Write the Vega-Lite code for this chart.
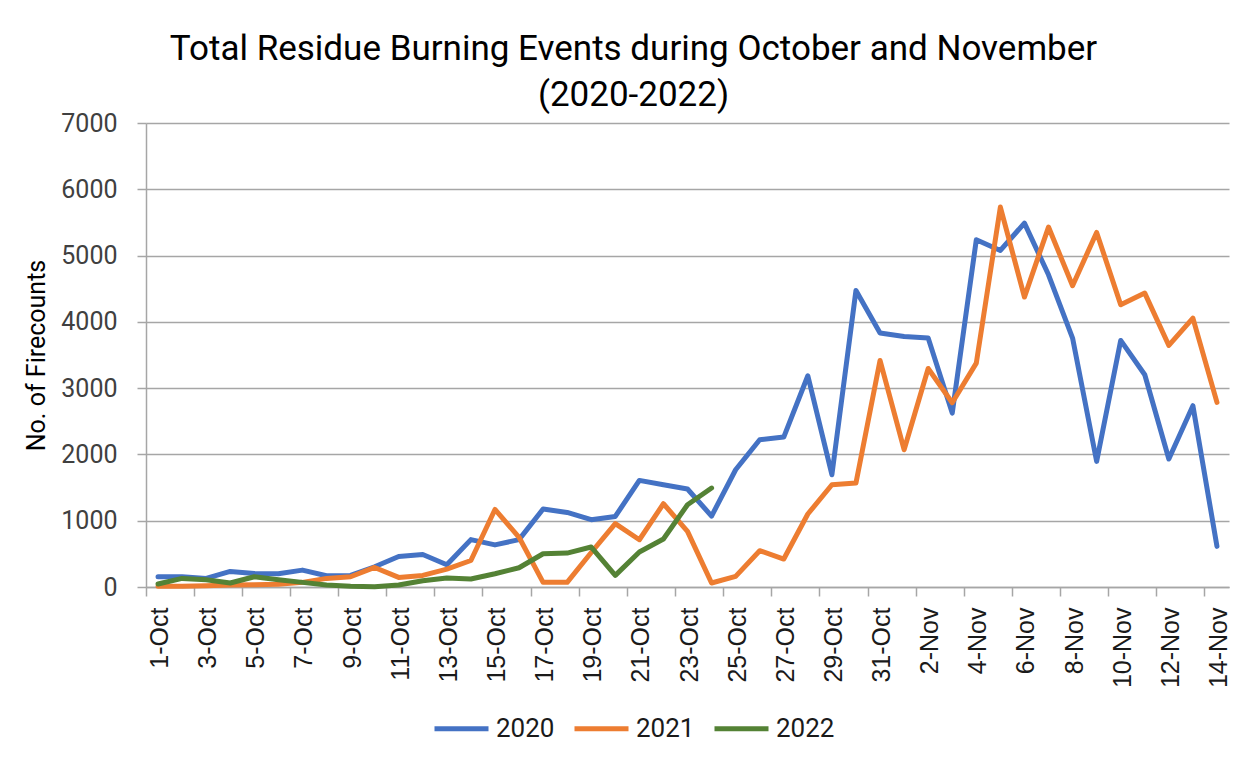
{
  "$schema": "https://vega.github.io/schema/vega-lite/v6.json",
  "width": 1083,
  "height": 464,
  "autosize": {"type": "none"},
  "padding": {"left": 146, "top": 123, "right": 24, "bottom": 178},
  "background": "white",
  "config": {"view": {"stroke": null}},
  "title": {
    "text": ["Total Residue Burning Events during October and November", "(2020-2022)"],
    "font": "Roboto",
    "fontSize": 35,
    "fontWeight": "normal",
    "color": "#000000",
    "anchor": "middle",
    "dx": -54,
    "offset": -2,
    "lineHeight": 46
  },
  "datasets": {
    "fires": [
      {"date":"1-Oct","year":"2020","value":155},{"date":"2-Oct","year":"2020","value":155},{"date":"3-Oct","year":"2020","value":130},{"date":"4-Oct","year":"2020","value":235},{"date":"5-Oct","year":"2020","value":205},{"date":"6-Oct","year":"2020","value":200},{"date":"7-Oct","year":"2020","value":255},{"date":"8-Oct","year":"2020","value":170},{"date":"9-Oct","year":"2020","value":175},{"date":"10-Oct","year":"2020","value":305},{"date":"11-Oct","year":"2020","value":460},{"date":"12-Oct","year":"2020","value":490},{"date":"13-Oct","year":"2020","value":335},{"date":"14-Oct","year":"2020","value":715},{"date":"15-Oct","year":"2020","value":635},{"date":"16-Oct","year":"2020","value":715},{"date":"17-Oct","year":"2020","value":1176},{"date":"18-Oct","year":"2020","value":1125},{"date":"19-Oct","year":"2020","value":1015},{"date":"20-Oct","year":"2020","value":1065},{"date":"21-Oct","year":"2020","value":1608},{"date":"22-Oct","year":"2020","value":1543},{"date":"23-Oct","year":"2020","value":1478},{"date":"24-Oct","year":"2020","value":1070},{"date":"25-Oct","year":"2020","value":1769},{"date":"26-Oct","year":"2020","value":2222},{"date":"27-Oct","year":"2020","value":2262},{"date":"28-Oct","year":"2020","value":3187},{"date":"29-Oct","year":"2020","value":1694},{"date":"30-Oct","year":"2020","value":4474},{"date":"31-Oct","year":"2020","value":3831},{"date":"1-Nov","year":"2020","value":3780},{"date":"2-Nov","year":"2020","value":3756},{"date":"3-Nov","year":"2020","value":2624},{"date":"4-Nov","year":"2020","value":5238},{"date":"5-Nov","year":"2020","value":5077},{"date":"6-Nov","year":"2020","value":5490},{"date":"7-Nov","year":"2020","value":4710},{"date":"8-Nov","year":"2020","value":3756},{"date":"9-Nov","year":"2020","value":1895},{"date":"10-Nov","year":"2020","value":3720},{"date":"11-Nov","year":"2020","value":3202},{"date":"12-Nov","year":"2020","value":1931},{"date":"13-Nov","year":"2020","value":2735},{"date":"14-Nov","year":"2020","value":613},
      {"date":"1-Oct","year":"2021","value":10},{"date":"2-Oct","year":"2021","value":10},{"date":"3-Oct","year":"2021","value":20},{"date":"4-Oct","year":"2021","value":30},{"date":"5-Oct","year":"2021","value":35},{"date":"6-Oct","year":"2021","value":40},{"date":"7-Oct","year":"2021","value":70},{"date":"8-Oct","year":"2021","value":130},{"date":"9-Oct","year":"2021","value":155},{"date":"10-Oct","year":"2021","value":295},{"date":"11-Oct","year":"2021","value":145},{"date":"12-Oct","year":"2021","value":175},{"date":"13-Oct","year":"2021","value":270},{"date":"14-Oct","year":"2021","value":400},{"date":"15-Oct","year":"2021","value":1170},{"date":"16-Oct","year":"2021","value":750},{"date":"17-Oct","year":"2021","value":70},{"date":"18-Oct","year":"2021","value":70},{"date":"19-Oct","year":"2021","value":520},{"date":"20-Oct","year":"2021","value":955},{"date":"21-Oct","year":"2021","value":713},{"date":"22-Oct","year":"2021","value":1256},{"date":"23-Oct","year":"2021","value":839},{"date":"24-Oct","year":"2021","value":60},{"date":"25-Oct","year":"2021","value":160},{"date":"26-Oct","year":"2021","value":548},{"date":"27-Oct","year":"2021","value":422},{"date":"28-Oct","year":"2021","value":1101},{"date":"29-Oct","year":"2021","value":1543},{"date":"30-Oct","year":"2021","value":1568},{"date":"31-Oct","year":"2021","value":3418},{"date":"1-Nov","year":"2021","value":2071},{"date":"2-Nov","year":"2021","value":3297},{"date":"3-Nov","year":"2021","value":2780},{"date":"4-Nov","year":"2021","value":3378},{"date":"5-Nov","year":"2021","value":5732},{"date":"6-Nov","year":"2021","value":4374},{"date":"7-Nov","year":"2021","value":5430},{"date":"8-Nov","year":"2021","value":4545},{"date":"9-Nov","year":"2021","value":5349},{"date":"10-Nov","year":"2021","value":4258},{"date":"11-Nov","year":"2021","value":4434},{"date":"12-Nov","year":"2021","value":3644},{"date":"13-Nov","year":"2021","value":4057},{"date":"14-Nov","year":"2021","value":2785},
      {"date":"1-Oct","year":"2022","value":45},{"date":"2-Oct","year":"2022","value":130},{"date":"3-Oct","year":"2022","value":110},{"date":"4-Oct","year":"2022","value":60},{"date":"5-Oct","year":"2022","value":155},{"date":"6-Oct","year":"2022","value":110},{"date":"7-Oct","year":"2022","value":70},{"date":"8-Oct","year":"2022","value":30},{"date":"9-Oct","year":"2022","value":10},{"date":"10-Oct","year":"2022","value":5},{"date":"11-Oct","year":"2022","value":30},{"date":"12-Oct","year":"2022","value":95},{"date":"13-Oct","year":"2022","value":135},{"date":"14-Oct","year":"2022","value":120},{"date":"15-Oct","year":"2022","value":200},{"date":"16-Oct","year":"2022","value":290},{"date":"17-Oct","year":"2022","value":502},{"date":"18-Oct","year":"2022","value":512},{"date":"19-Oct","year":"2022","value":603},{"date":"20-Oct","year":"2022","value":175},{"date":"21-Oct","year":"2022","value":528},{"date":"22-Oct","year":"2022","value":724},{"date":"23-Oct","year":"2022","value":1241},{"date":"24-Oct","year":"2022","value":1493}
    ]
  },
  "data": {"name": "fires"},
  "mark": {"type": "line", "strokeWidth": 5, "strokeCap": "round", "strokeJoin": "round"},
  "encoding": {
    "x": {
      "field": "date",
      "type": "nominal",
      "bandPosition": 0.5,
      "scale": {
        "type": "band",
        "paddingInner": 0,
        "paddingOuter": 0,
        "domain": ["1-Oct","2-Oct","3-Oct","4-Oct","5-Oct","6-Oct","7-Oct","8-Oct","9-Oct","10-Oct","11-Oct","12-Oct","13-Oct","14-Oct","15-Oct","16-Oct","17-Oct","18-Oct","19-Oct","20-Oct","21-Oct","22-Oct","23-Oct","24-Oct","25-Oct","26-Oct","27-Oct","28-Oct","29-Oct","30-Oct","31-Oct","1-Nov","2-Nov","3-Nov","4-Nov","5-Nov","6-Nov","7-Nov","8-Nov","9-Nov","10-Nov","11-Nov","12-Nov","13-Nov","14-Nov"]
      },
      "axis": {
        "title": null,
        "values": ["1-Oct","3-Oct","5-Oct","7-Oct","9-Oct","11-Oct","13-Oct","15-Oct","17-Oct","19-Oct","21-Oct","23-Oct","25-Oct","27-Oct","29-Oct","31-Oct","2-Nov","4-Nov","6-Nov","8-Nov","10-Nov","12-Nov","14-Nov"],
        "bandPosition": 0,
        "labelOffset": 2,
        "labelAngle": -90,
        "labelAlign": "right",
        "labelBaseline": "middle",
        "labelFont": "Liberation Sans",
        "labelFontSize": 25,
        "labelColor": "#1a1a1a",
        "labelPadding": 11,
        "tickSize": 9,
        "tickColor": "#a6a6a6",
        "tickWidth": 1.5,
        "domainColor": "#a6a6a6",
        "domainWidth": 1.5,
        "grid": false,
        "labelOverlap": false
      }
    },
    "y": {
      "field": "value",
      "type": "quantitative",
      "scale": {"domain": [0, 7000], "nice": false},
      "axis": {
        "title": "No. of Firecounts",
        "titleFont": "Roboto",
        "titleFontSize": 25,
        "titleFontWeight": "normal",
        "titleColor": "#000000",
        "titlePadding": 11,
        "values": [0, 1000, 2000, 3000, 4000, 5000, 6000, 7000],
        "format": "d",
        "labelFont": "Roboto",
        "labelFontSize": 25,
        "labelColor": "#404040",
        "labelPadding": 20,
        "tickSize": 9,
        "tickColor": "#a6a6a6",
        "tickWidth": 1.5,
        "domainColor": "#a6a6a6",
        "domainWidth": 1.5,
        "grid": true,
        "gridColor": "#a6a6a6",
        "gridWidth": 1.5
      }
    },
    "color": {
      "field": "year",
      "type": "nominal",
      "scale": {"domain": ["2020", "2021", "2022"], "range": ["#4472C4", "#ED7D31", "#548235"]},
      "legend": {
        "title": null,
        "orient": "none",
        "direction": "horizontal",
        "legendX": 286,
        "legendY": 576,
        "padding": 0,
        "symbolType": "stroke",
        "symbolSize": 2916,
        "symbolStrokeWidth": 5,
        "labelFont": "Roboto",
        "labelFontSize": 26,
        "labelColor": "#1a1a1a",
        "labelOffset": 5,
        "columnPadding": 9
      }
    }
  }
}
